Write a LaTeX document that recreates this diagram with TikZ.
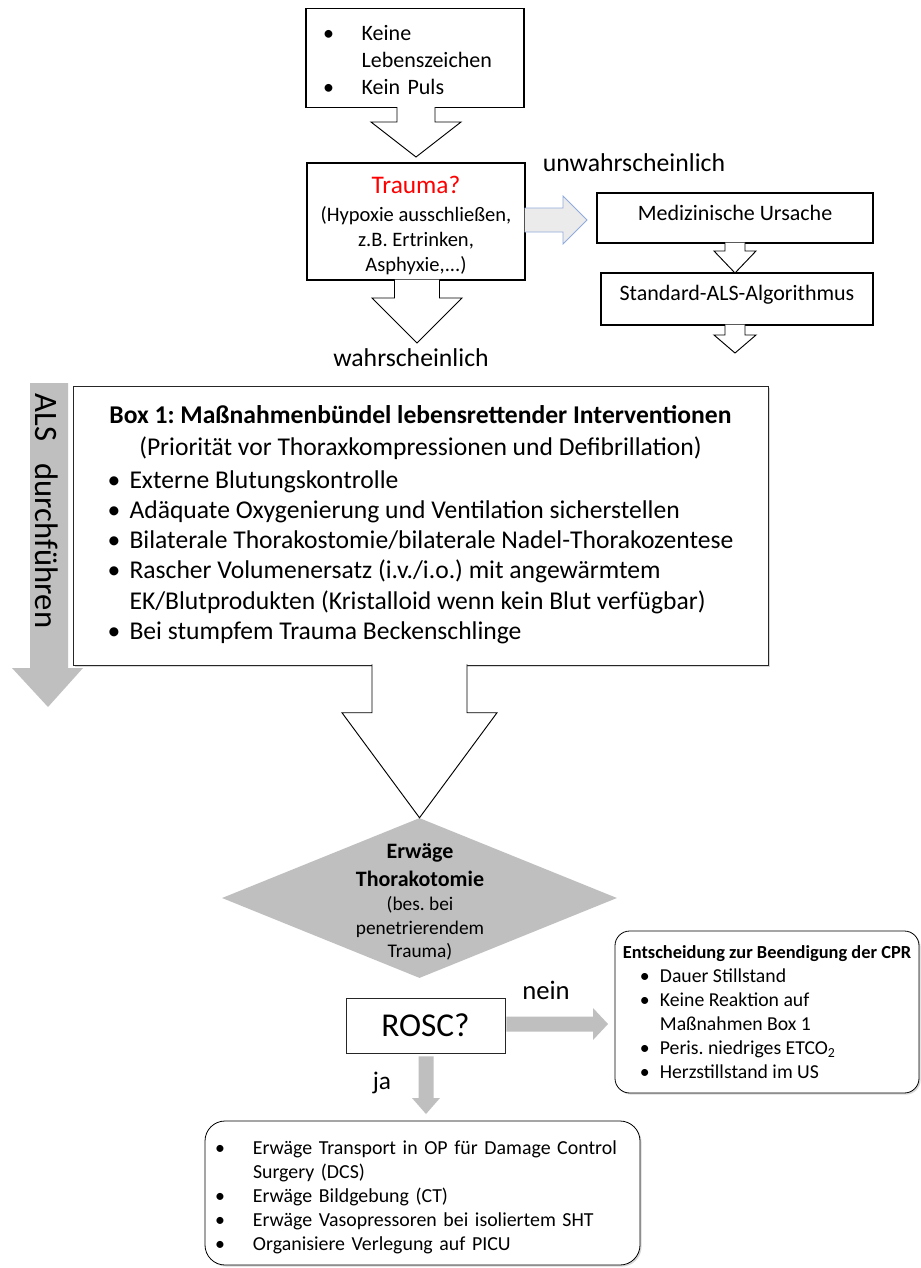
\documentclass[tikz,border=0pt]{standalone}
\usepackage{fontspec}
\setmainfont{Carlito}
\usepackage{tikz}
\usetikzlibrary {calc,
                 positioning,
                 shapes.geometric,
                 shadows}
\definecolor{alsgray}{HTML}{BFBFBF}
\definecolor{arrowblue}{HTML}{8FAADC}
\tikzset{
         plainbox/.style={draw, line width=0.8pt, fill=white},
         thinbox/.style={draw=black!85, line width=0.6pt, fill=white},
         roundbox/.style={draw, line width=0.6pt, fill=white, rounded corners=11pt,
                          drop shadow={shadow xshift=1.2pt, shadow yshift=-1.2pt, opacity=0.3}},
         hollowarrow/.style={draw, line width=0.7pt, fill=white, line join=miter},
         bluearrow/.style={draw=arrowblue, line width=0.6pt, fill=black!8},
         grayarrow/.style={draw=none, fill=alsgray},
         labeltext/.style={font=\fontsize{19.3}{22}\selectfont},
}
% block arrows: start, tip, half shaft, half head, head length
\newcommand{\blockdown}[6][]{%
  \path[#1] ($(#3 |- #2)+(-#4,-1)$) -- ($(#3)+(-#4,-#6)$) -- ($(#3)+(-#5,-#6)$) -- (#3)
     -- ($(#3)+(#5,-#6)$) -- ($(#3)+(#4,-#6)$) -- ($(#3 |- #2)+(#4,-1)$);}
\newcommand{\blockright}[6][]{%
  \path[#1] ($(#2 |- #3)+(-1,-#4)$) -- ($(#3)+(-#6,-#4)$) -- ($(#3)+(-#6,-#5)$) -- (#3)
     -- ($(#3)+(-#6,#5)$) -- ($(#3)+(-#6,#4)$) -- ($(#2 |- #3)+(-1,#4)$);}
\newcommand{\diahead}[1]{{\bfseries\fontsize{16.5}{19}\selectfont #1}}
\frenchspacing

\begin{document}
\begin{tikzpicture}[x=0.75pt, y=-0.75pt]
    \fill[white] (0,0) rectangle (921,1268);
    \useasboundingbox (0,0) rectangle (921,1268);

    % Einstieg
    \node[plainbox, minimum width=163.5pt, minimum height=72pt, text width=138pt, inner xsep=12.75pt,
          align=left, font=\fontsize{16.5}{20.5}\selectfont] (signs) at (415,58)
         {\begin{tabular}{@{}p{29pt}@{}l@{}}\rule{0pt}{20.5pt}\textbullet & Keine\\ & Lebenszeichen\\ \textbullet & Kein Puls\end{tabular}};
    \node[plainbox, minimum width=163.5pt, minimum height=87.75pt, align=center,
          font=\fontsize{15.4}{19}\selectfont] (trauma) at (416,221.5)
         {\rule{0pt}{19pt}\textcolor{red}{\fontsize{19}{21}\selectfont Trauma?}\\[2pt] (Hypoxie ausschließen,\\ z.B. Ertrinken,\\ Asphyxie,...)};
    \coordinate (signstip) at (416,157);
    \blockdown[hollowarrow]{signs.south}{signstip}{19}{45}{35}

    % unwahrscheinlich
    \node[plainbox, minimum width=207pt, minimum height=37.5pt, text depth=7.5pt,
          font=\fontsize{16.5}{19}\selectfont] (cause) at (735,218) {Medizinische Ursache};
    \node[plainbox, minimum width=204pt, minimum height=39pt, text depth=9pt,
          font=\fontsize{16.5}{19}\selectfont] (als) at (737,299) {Standard-ALS-Algorithmus};
    \node[labeltext] (unlikely) at (634,163) {unwahrscheinlich};
    \coordinate (unlikelytip) at (587,220);
    \blockright[bluearrow]{trauma.east}{unlikelytip}{12}{24}{24}
    \coordinate (causetip) at (735,273);
    \blockdown[hollowarrow]{cause.south}{causetip}{10}{21}{22}
    \coordinate (alsout) at (735,353);
    \blockdown[hollowarrow]{als.south}{alsout}{10}{21}{18}

    % wahrscheinlich
    \coordinate (likelytip) at (417,343);
    \blockdown[hollowarrow]{trauma.south}{likelytip}{22.5}{45}{45}
    \node[labeltext] (likely) at (411,358) {wahrscheinlich};

    % ALS Pfeil
    \fill[alsgray] (30,383) -- (30,668) -- (12,668) -- (48,707) -- (83,668) -- (68,668) -- (68,383) -- cycle;
    \node[rotate=-90, font=\fontsize{24.5}{27}\selectfont] (alslabel) at (47,511) {ALS\ \ \ durchführen};

    % Box 1
    \node[thinbox, drop shadow={shadow xshift=1.5pt, shadow yshift=-1.5pt, opacity=0.3},
          minimum width=521.25pt, minimum height=209.25pt, align=left,
          font=\fontsize{19.2}{22.7}\selectfont] (box1) at (420.5,525.5)
         {\begin{tabular}{@{}p{16.5pt}@{}l@{}}
          \multicolumn{2}{@{}c@{}}{\bfseries Box 1: Maßnahmenbündel lebensrettender Interventionen}\\[1.5pt]
          \multicolumn{2}{@{}c@{}}{(Priorität vor Thoraxkompressionen und Defibrillation)}\\[1.5pt]
          \textbullet & Externe Blutungskontrolle\\
          \textbullet & Adäquate Oxygenierung und Ventilation sicherstellen\\
          \textbullet & Bilaterale Thorakostomie/bilaterale Nadel-Thorakozentese\\
          \textbullet & Rascher Volumenersatz (i.v./i.o.) mit angewärmtem\\
                      & EK/Blutprodukten (Kristalloid wenn kein Blut verfügbar)\\
          \textbullet & Bei stumpfem Trauma Beckenschlinge
          \end{tabular}};

    % Thorakotomie
    \node[diamond, fill=alsgray, minimum width=296.25pt, minimum height=120pt, inner sep=0pt] (dia) at (419.5,898) {};
    \node[align=center, font=\fontsize{14.5}{17.5}\selectfont] (diatext) at (420,902)
         {\diahead{Erwäge}\\[3pt] \diahead{Thorakotomie}\\[1pt] (bes. bei\\ penetrierendem\\ Trauma)};
    \blockdown[hollowarrow]{box1.south}{dia.north}{47.5}{77.5}{105}

    % ROSC
    \node[thinbox, minimum width=119.25pt, minimum height=41.25pt, font=\fontsize{25}{28}\selectfont] (rosc) at (425.5,1025.5) {ROSC?};
    \node[roundbox, minimum width=228pt, minimum height=121.5pt, align=left,
          font=\fontsize{14.8}{17.5}\selectfont] (stop) at (767,1012)
         {\begin{tabular}{@{}p{12.75pt}@{}p{15pt}@{}l@{}}
          \multicolumn{3}{@{}l@{}}{\bfseries\fontsize{13.8}{18}\selectfont\rule{0pt}{15pt}Entscheidung zur Beendigung der CPR}\\
          & \textbullet & Dauer Stillstand\\[1pt]
          & \textbullet & Keine Reaktion auf\\
          &             & Maßnahmen Box 1\\[1pt]
          & \textbullet & Peris. niedriges ETCO\textsubscript{2}\\
          & \textbullet & Herzstillstand im US
          \end{tabular}};
    \node[roundbox, rounded corners=15pt, minimum width=326.25pt, minimum height=108pt, text width=311.25pt,
          inner xsep=0pt, align=left, font=\fontsize{14.9}{18}\selectfont] (after) at (422.5,1193)
         {\begin{tabular}{@{}p{28.5pt}@{}l@{}}
          \rule{0pt}{19.4pt}\textbullet & Erwäge Transport in OP für Damage Control\\
                      & Surgery (DCS)\\
          \textbullet & Erwäge Bildgebung (CT)\\
          \textbullet & Erwäge Vasopressoren bei isoliertem SHT\\
          \textbullet & Organisiere Verlegung auf PICU
          \end{tabular}};
    \coordinate (neinstart) at ($(rosc.east)+(2,0)$);
    \coordinate (neintip) at (608,1024);
    \blockright[grayarrow]{neinstart}{neintip}{7.5}{16}{15}
    \node[font=\fontsize{20}{23}\selectfont] (nein) at (546,990) {nein};
    \coordinate (jastart) at ($(rosc.south)+(0,4)$);
    \coordinate (jatip) at (426,1114);
    \blockdown[grayarrow]{jastart}{jatip}{7.5}{14}{16}
    \node[font=\fontsize{19}{22}\selectfont] (ja) at (382,1083) {ja};

\end{tikzpicture}
\end{document}
